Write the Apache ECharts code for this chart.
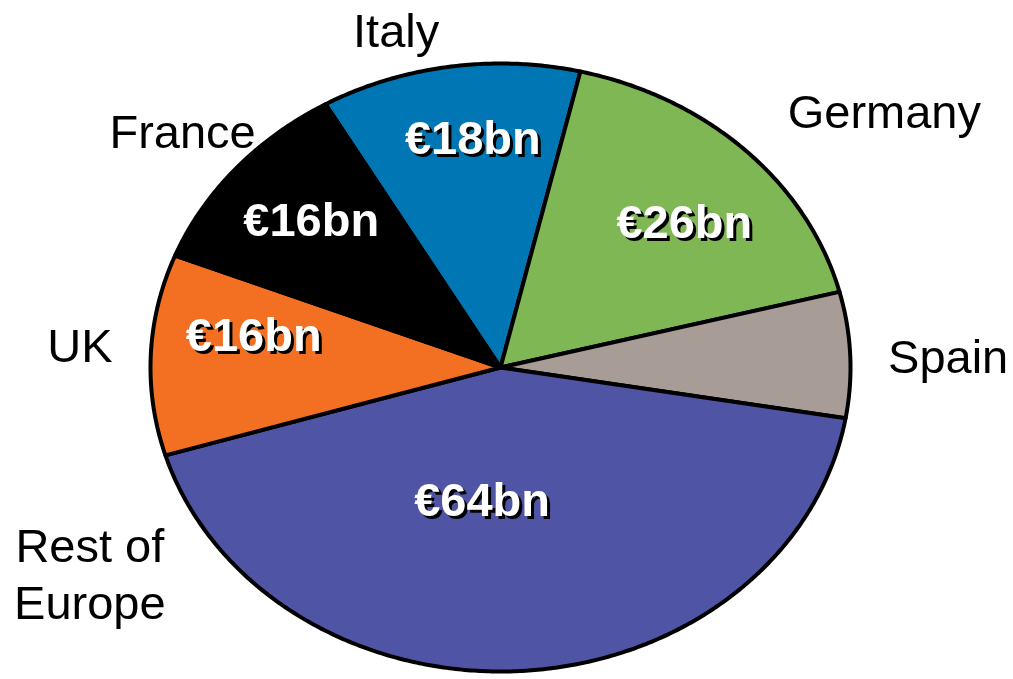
<!DOCTYPE html>
<html>
<head>
<meta charset="utf-8">
<script src="https://cdn.jsdelivr.net/npm/echarts@6/dist/echarts.min.js"></script>
<style>
  html, body { margin: 0; padding: 0; background: #ffffff; }
  #chart { width: 1013px; height: 679px; }
</style>
</head>
<body>
<div id="chart"></div>
<script>
// Slices, clockwise from Italy
const countries = ['Italy', 'Germany', 'Spain', 'Rest of\nEurope', 'UK', 'France'];
const values = [18, 26, 10, 64, 16, 16];           // € billion
const valueLabels = ['€18bn', '€26bn', '', '€64bn', '€16bn', '€16bn'];
const colors = ['#0077b4', '#7fb755', '#a89c97', '#4f55a4', '#f37022', '#000000'];

// Layout of the elliptical pie
const layout = {
  cx: 500.5, cy: 367.5, rx: 350, ry: 304,
  startDeg: -30,              // clockwise from 12 o'clock
  insideAt: 0.62, outsideAt: 1.2,
  insideNudge: [[4, -40], [32, -8], [0, 0], [-32, -53], [-30, -22], [-25, -21]],
  outsideNudge: [[-43, 27], [90, 8], [28, 8], [-437, -154], [-1, -3], [0, 6]]
};

const total = values.reduce((a, b) => a + b, 0);

function pointAt(deg, f) {
  const r = deg * Math.PI / 180;
  return [layout.cx + layout.rx * f * Math.sin(r), layout.cy - layout.ry * f * Math.cos(r)];
}

function renderItem(params, api) {
  const i = params.dataIndex;
  const v = api.value(0);
  let before = 0;
  for (let k = 0; k < i; k++) before += values[k];
  const a0 = layout.startDeg + before / total * 360;
  const a1 = a0 + v / total * 360;
  const pts = [[layout.cx, layout.cy]];
  const steps = Math.max(2, Math.ceil((a1 - a0) * 2));
  for (let s = 0; s <= steps; s++) pts.push(pointAt(a0 + (a1 - a0) * s / steps, 1));
  const mid = (a0 + a1) / 2;
  const ip = pointAt(mid, layout.insideAt);
  const op = pointAt(mid, layout.outsideAt);
  const inX = ip[0] + layout.insideNudge[i][0], inY = ip[1] + layout.insideNudge[i][1];
  const outX = op[0] + layout.outsideNudge[i][0], outY = op[1] + layout.outsideNudge[i][1];
  const children = [{
    type: 'polygon',
    shape: { points: pts },
    style: { fill: colors[i], stroke: '#000000', lineWidth: 4, lineJoin: 'round' }
  }];
  const boldFont = 'bold 47px "Liberation Sans", Arial, sans-serif';
  if (valueLabels[i]) {
    children.push({
      type: 'text', z2: 10,
      style: { text: valueLabels[i], x: inX + 3, y: inY + 3, fill: '#000000', font: boldFont, align: 'center', verticalAlign: 'middle' }
    });
    children.push({
      type: 'text', z2: 11,
      style: { text: valueLabels[i], x: inX, y: inY, fill: '#ffffff', font: boldFont, align: 'center', verticalAlign: 'middle' }
    });
  }
  children.push({
    type: 'text', z2: 11,
    style: {
      text: countries[i], x: outX, y: outY, fill: '#000000',
      font: '47px "Liberation Sans", Arial, sans-serif', lineHeight: 57,
      align: 'center', verticalAlign: 'middle'
    }
  });
  return { type: 'group', children: children };
}

const chart = echarts.init(document.getElementById('chart'), null, { renderer: 'canvas' });
chart.setOption({
  animation: false,
  backgroundColor: '#ffffff',
  series: [{
    type: 'custom',
    coordinateSystem: 'none',
    renderItem: renderItem,
    data: values.map((v, i) => [v, i])
  }]
});
</script>
</body>
</html>
